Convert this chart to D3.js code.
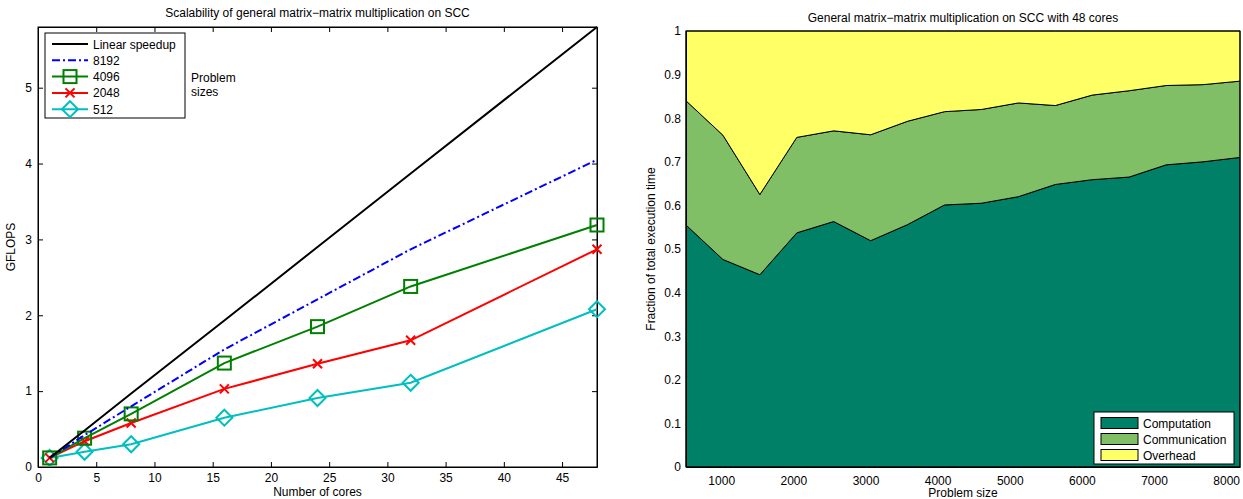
<!DOCTYPE html>
<html>
<head>
<meta charset="utf-8">
<script src="https://cdn.jsdelivr.net/npm/d3@7"></script>
<style>
  body { margin: 0; background: #fff; }
  svg { font-family: "Liberation Sans", Arial, sans-serif; }
  .tick text { font-size: 12px; fill: #000; }
  .domain, .tick line { stroke: #000; }
</style>
</head>
<body>
<svg id="chart" width="1243" height="499"></svg>
<script>
// ---- left chart data: GFLOPS vs number of cores
const cores = [1, 4, 8, 16, 24, 32, 48];
const linearSpeedup = [0.12, 0.48, 0.97, 1.93, 2.90, 3.87, 5.8];
const gflops8192 = [0.12, 0.42, 0.80, 1.55, 2.21, 2.87, 4.05];
const gflops4096 = [0.12, 0.38, 0.70, 1.37, 1.85, 2.38, 3.19];
const gflops2048 = [0.12, 0.34, 0.58, 1.03, 1.36, 1.67, 2.87];
const gflops512 = [0.12, 0.20, 0.30, 0.65, 0.91, 1.11, 2.08];
const coreTicks = [0, 5, 10, 15, 20, 25, 30, 35, 40, 45];
const gflopTicks = [0, 1, 2, 3, 4, 5];

// ---- right chart data: fraction of execution time vs problem size
const problemSizes = [512, 1024, 1536, 2048, 2560, 3072, 3584, 4096, 4608, 5120, 5632, 6144, 6656, 7168, 7680, 8192];
const computation = [0.555, 0.476, 0.441, 0.537, 0.563, 0.519, 0.556, 0.601, 0.605, 0.620, 0.648, 0.659, 0.665, 0.693, 0.700, 0.710];
const communication = [0.285, 0.285, 0.184, 0.219, 0.208, 0.243, 0.237, 0.214, 0.215, 0.215, 0.181, 0.194, 0.198, 0.182, 0.177, 0.175];
const overhead = [0.160, 0.239, 0.375, 0.244, 0.229, 0.238, 0.207, 0.185, 0.180, 0.165, 0.171, 0.147, 0.137, 0.125, 0.123, 0.115];
const sizeTicks = [1000, 2000, 3000, 4000, 5000, 6000, 7000, 8000];
const fractionTicks = [0, 0.1, 0.2, 0.3, 0.4, 0.5, 0.6, 0.7, 0.8, 0.9, 1];

const svg = d3.select("#chart");

// ================= left chart =================
const L = { left: 38, right: 597, top: 27, bottom: 467 };
const x1 = d3.scaleLinear().domain([0, 48]).range([L.left, L.right]);
const y1 = d3.scaleLinear().domain([0, 5.8]).range([L.bottom, L.top]);

const gl = svg.append("g");

gl.append("g").attr("transform", `translate(0,${L.bottom})`)
  .call(d3.axisBottom(x1).tickValues(coreTicks).tickSizeInner(-5).tickSizeOuter(0).tickPadding(6).tickFormat(d3.format("d")));
gl.append("g").attr("transform", `translate(0,${L.top})`)
  .call(d3.axisTop(x1).tickValues(coreTicks).tickSizeInner(-5).tickSizeOuter(0).tickFormat(""));
gl.append("g").attr("transform", `translate(${L.left},0)`)
  .call(d3.axisLeft(y1).tickValues(gflopTicks).tickSizeInner(-5).tickSizeOuter(0).tickPadding(6).tickFormat(d3.format("d")));
gl.append("g").attr("transform", `translate(${L.right},0)`)
  .call(d3.axisRight(y1).tickValues(gflopTicks).tickSizeInner(-5).tickSizeOuter(0).tickFormat(""));
gl.append("rect").attr("x", L.left).attr("y", L.top)
  .attr("width", L.right - L.left).attr("height", L.bottom - L.top)
  .attr("fill", "none").attr("stroke", "#000");

gl.append("text").attr("x", (L.left + L.right) / 2).attr("y", 17)
  .attr("text-anchor", "middle").attr("font-size", 12)
  .text("Scalability of general matrix\u2212matrix multiplication on SCC");
gl.append("text").attr("x", (L.left + L.right) / 2).attr("y", 496)
  .attr("text-anchor", "middle").attr("font-size", 12).text("Number of cores");
gl.append("text").attr("transform", `translate(15,${(L.top + L.bottom) / 2}) rotate(-90)`)
  .attr("text-anchor", "middle").attr("font-size", 12).text("GFLOPS");

const series = [
  { name: "Linear speedup", values: linearSpeedup, color: "#000", dash: null, marker: null },
  { name: "8192", values: gflops8192, color: "#0000ff", dash: "8,3,2,3", marker: null },
  { name: "4096", values: gflops4096, color: "#008000", dash: null, marker: "square" },
  { name: "2048", values: gflops2048, color: "#ff0000", dash: null, marker: "x" },
  { name: "512", values: gflops512, color: "#00bfbf", dash: null, marker: "diamond" }
];

const line = d3.line().x((d, i) => x1(cores[i])).y(d => y1(d));

function drawMarker(g, type, cx, cy, color) {
  if (type === "square") {
    g.append("rect").attr("x", cx - 6.5).attr("y", cy - 6.5).attr("width", 13).attr("height", 13)
      .attr("fill", "none").attr("stroke", color).attr("stroke-width", 2);
  } else if (type === "x") {
    g.append("path").attr("d", `M${cx - 4.5},${cy - 4.5}L${cx + 4.5},${cy + 4.5}M${cx - 4.5},${cy + 4.5}L${cx + 4.5},${cy - 4.5}`)
      .attr("stroke", color).attr("stroke-width", 2);
  } else if (type === "diamond") {
    g.append("path").attr("d", `M${cx},${cy - 8}L${cx + 8},${cy}L${cx},${cy + 8}L${cx - 8},${cy}Z`)
      .attr("fill", "none").attr("stroke", color).attr("stroke-width", 2);
  }
}

const plot = gl.append("g");
series.slice().reverse().forEach(s => {
  plot.append("path").datum(s.values).attr("d", line)
    .attr("fill", "none").attr("stroke", s.color).attr("stroke-width", 2)
    .attr("stroke-dasharray", s.dash);
  if (s.marker) s.values.forEach((v, i) => drawMarker(plot, s.marker, x1(cores[i]), y1(v), s.color));
});

// legend
const lg = gl.append("g");
lg.append("rect").attr("x", 45).attr("y", 33).attr("width", 140).attr("height", 85)
  .attr("fill", "#fff").attr("stroke", "#000");
series.forEach((s, i) => {
  const yy = 44 + i * 16.3;
  lg.append("line").attr("x1", 52).attr("x2", 88).attr("y1", yy).attr("y2", yy)
    .attr("stroke", s.color).attr("stroke-width", 2).attr("stroke-dasharray", s.dash);
  if (s.marker) drawMarker(lg, s.marker, 70, yy, s.color);
  lg.append("text").attr("x", 93).attr("y", yy + 4.5).attr("font-size", 12).text(s.name);
});
gl.append("text").attr("x", 191).attr("y", 82).attr("font-size", 12).text("Problem");
gl.append("text").attr("x", 191).attr("y", 96).attr("font-size", 12).text("sizes");

// ================= right chart =================
const R = { left: 686, right: 1240, top: 31, bottom: 467 };
const x2 = d3.scaleLinear().domain([512, 8192]).range([R.left, R.right]);
const y2 = d3.scaleLinear().domain([0, 1]).range([R.bottom, R.top]);

const gr = svg.append("g");

const rows = problemSizes.map((p, i) => ({
  size: p, Computation: computation[i], Communication: communication[i], Overhead: overhead[i]
}));
const keys = ["Computation", "Communication", "Overhead"];
const colors = { Computation: "#008066", Communication: "#80bf66", Overhead: "#ffff66" };
const stacked = d3.stack().keys(keys)(rows);
const area = d3.area().x(d => x2(d.data.size)).y0(d => y2(d[0])).y1(d => y2(d[1]));

gr.selectAll("path.layer").data(stacked).join("path").attr("class", "layer")
  .attr("d", area).attr("fill", d => colors[d.key]).attr("stroke", "#000").attr("stroke-width", 1);

gr.append("g").attr("transform", `translate(0,${R.bottom})`)
  .call(d3.axisBottom(x2).tickValues(sizeTicks).tickSize(0).tickPadding(9).tickFormat(d3.format("d")));
gr.append("g").attr("transform", `translate(${R.left},0)`)
  .call(d3.axisLeft(y2).tickValues(fractionTicks).tickSize(0).tickPadding(5).tickFormat(d3.format("~g")));
gr.append("rect").attr("x", R.left).attr("y", R.top)
  .attr("width", R.right - R.left).attr("height", R.bottom - R.top)
  .attr("fill", "none").attr("stroke", "#000");

gr.append("text").attr("x", (R.left + R.right) / 2).attr("y", 22)
  .attr("text-anchor", "middle").attr("font-size", 12)
  .text("General matrix\u2212matrix multiplication on SCC with 48 cores");
gr.append("text").attr("x", (R.left + R.right) / 2).attr("y", 497)
  .attr("text-anchor", "middle").attr("font-size", 12).text("Problem size");
gr.append("text").attr("transform", `translate(655,${(R.top + R.bottom) / 2}) rotate(-90)`)
  .attr("text-anchor", "middle").attr("font-size", 12).text("Fraction of total execution time");

// legend
const rl = gr.append("g");
rl.append("rect").attr("x", 1094).attr("y", 412).attr("width", 140).attr("height", 52)
  .attr("fill", "#fff").attr("stroke", "#000");
keys.forEach((k, i) => {
  const yy = 423 + i * 16;
  rl.append("rect").attr("x", 1101).attr("y", yy - 5.5).attr("width", 37).attr("height", 11)
    .attr("fill", colors[k]).attr("stroke", "#000");
  rl.append("text").attr("x", 1143).attr("y", yy + 4.5).attr("font-size", 12).text(k);
});
</script>
</body>
</html>
